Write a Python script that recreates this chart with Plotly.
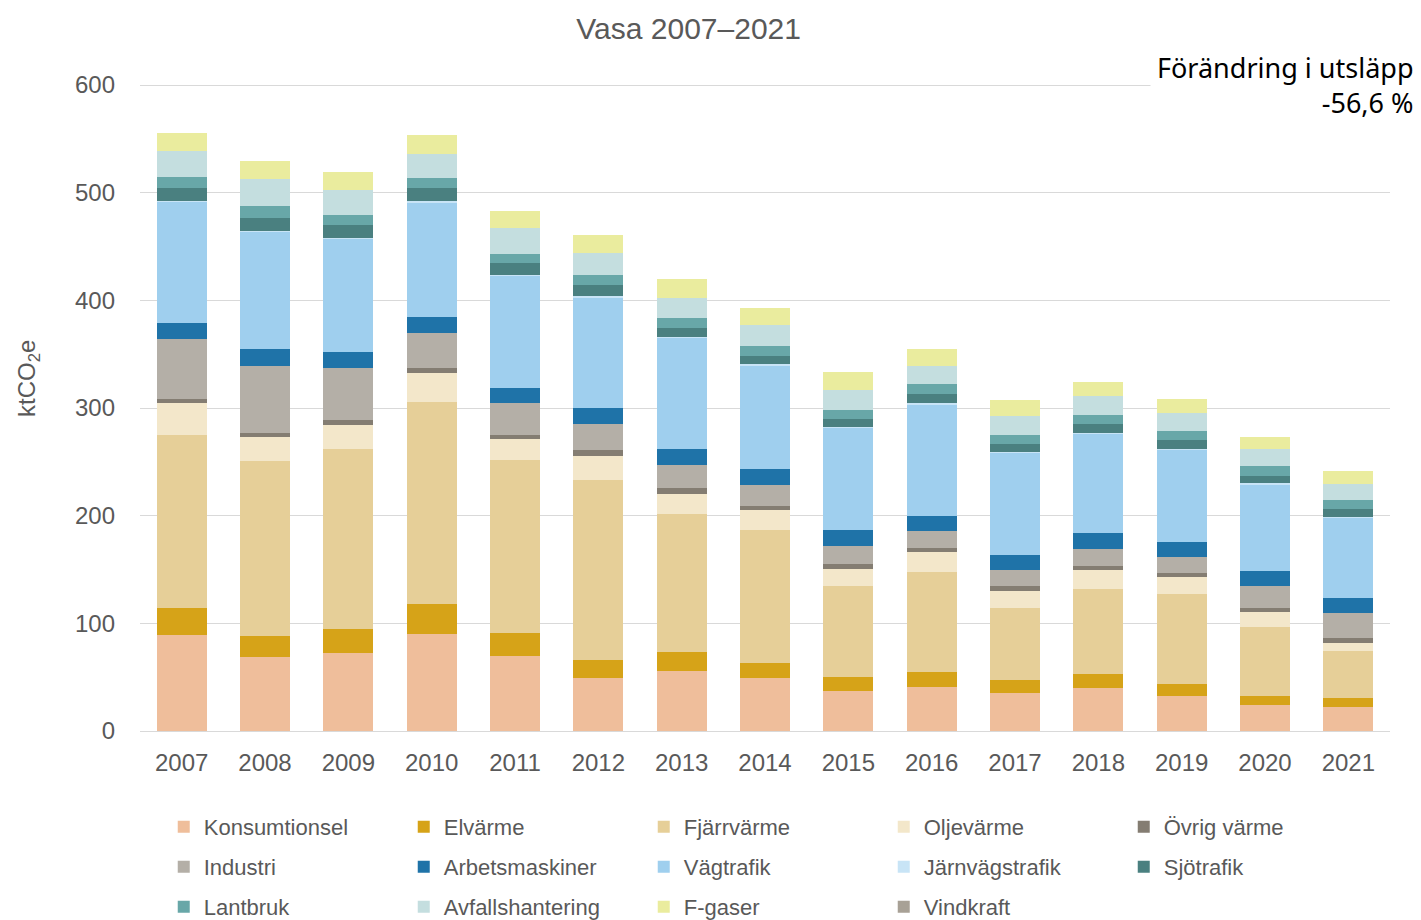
import plotly.graph_objects as go

years = [str(y) for y in range(2007, 2022)]

konsumtionsel = [89, 69, 72.6, 90, 69.8, 49.2, 56, 49.2, 37.4, 41, 35.5, 40.2, 32.5, 23.8, 22.5]
elvarme = [25.7, 19.4, 21.7, 27.8, 21.4, 16.6, 17.6, 13.8, 12.6, 14, 11.8, 12.9, 11.1, 8.7, 8.1]
fjarrvarme = [160.3, 162.3, 167.2, 188.2, 160.8, 167.6, 128.4, 123.4, 84.5, 93.1, 66.7, 79.2, 83.7, 63.7, 43.9]
oljevarme = [29.5, 22.3, 22.3, 26.6, 19.3, 22.3, 18.4, 18.6, 16.4, 18.6, 16.5, 17, 15.8, 14.8, 7.7]
ovrig_varme = [4, 4, 5.2, 4.4, 3.7, 4.9, 5.3, 3.7, 4.1, 3.7, 4, 3.7, 4.1, 2.8, 4]
industri = [55.5, 62.4, 48.6, 33, 30, 24.3, 21, 19.4, 17.2, 15.7, 15.5, 16.4, 14.5, 21.2, 23.5]
arbetsmaskiner = [15, 15.6, 14.8, 14.6, 13.6, 14.8, 14.8, 15.2, 14.2, 13.9, 13.8, 14.8, 13.9, 13.9, 13.9]
vagtrafik = [112.5, 108.6, 105, 106.6, 104.2, 103.3, 103.8, 96.3, 95.4, 103.4, 94.6, 91.8, 85.8, 80.1, 74.4]
jarnvagstrafik = [1] * 15
sjotrafik = [11.5, 12.1, 11.5, 11.8, 10.7, 9.9, 7.7, 8.1, 6.9, 9.1, 7.6, 8.6, 7.8, 7.1, 7.5]
lantbruk = [10.7, 11.3, 9.6, 9.8, 8.9, 9.9, 9.6, 8.6, 8.9, 8.9, 8.2, 8.4, 8.9, 8.7, 8]
avfallshantering = [24.3, 24.8, 23.5, 22.5, 23.6, 20.6, 18.9, 19.5, 18.6, 17, 17.5, 17.2, 16.7, 15.7, 14.8]
f_gaser = [16.8, 16.7, 16.6, 17.3, 16.2, 16.6, 17.3, 16.4, 16.7, 15.8, 14.9, 12.8, 12.6, 11.8, 11.8]
vindkraft = [0] * 15

# name, values, colour, legend row
series = [
    ("Konsumtionsel", konsumtionsel, "#EFBE9B", "legend"),
    ("Elvärme", elvarme, "#D6A318", "legend"),
    ("Fjärrvärme", fjarrvarme, "#E6CF98", "legend"),
    ("Oljevärme", oljevarme, "#F3E7CA", "legend"),
    ("Övrig värme", ovrig_varme, "#847D72", "legend"),
    ("Industri", industri, "#B4AFA7", "legend2"),
    ("Arbetsmaskiner", arbetsmaskiner, "#1F73A8", "legend2"),
    ("Vägtrafik", vagtrafik, "#9FCFEE", "legend2"),
    ("Järnvägstrafik", jarnvagstrafik, "#C8E4F6", "legend2"),
    ("Sjötrafik", sjotrafik, "#4A8080", "legend2"),
    ("Lantbruk", lantbruk, "#68A7A8", "legend3"),
    ("Avfallshantering", avfallshantering, "#C4DEDF", "legend3"),
    ("F-gaser", f_gaser, "#EAEC9E", "legend3"),
    ("Vindkraft", vindkraft, "#A8A196", "legend3"),
]

fig = go.Figure()
for name, vals, col, leg in series:
    fig.add_trace(go.Bar(x=years, y=vals, name=name, marker_color=col,
                         marker_line_width=0, legend=leg))

grey = "#595959"
H = 920
# the page puts the figure 8px in from the top-left corner, so positions are shifted by 8
legend_style = dict(orientation="h", x=0.1096, xanchor="left", yanchor="middle",
                    xref="container", yref="container",
                    entrywidth=195, entrywidthmode="pixels",
                    font=dict(family="Liberation Sans, Arial", size=22, color=grey),
                    bgcolor="rgba(0,0,0,0)", traceorder="normal")

fig.update_layout(
    width=1421, height=H,
    barmode="stack", bargap=0.4,
    plot_bgcolor="white", paper_bgcolor="white",
    margin=dict(l=132, r=39, t=76, b=197),
    font=dict(family="Liberation Sans, Arial", color=grey),
    title=dict(text="Vasa 2007–2021", x=0.479, xanchor="center",
               y=1 - 20 / H, yanchor="middle", xref="container", yref="container",
               font=dict(size=30, color=grey)),
    legend=dict(legend_style, y=1 - 819 / H),
    legend2=dict(legend_style, y=1 - 859 / H),
    legend3=dict(legend_style, y=1 - 899 / H),
    xaxis=dict(showgrid=False, showline=True, linecolor="#D9D9D9", linewidth=1,
               tickfont=dict(size=24, color=grey), ticklabelstandoff=10),
    yaxis=dict(range=[0, 601], tickvals=[0, 100, 200, 300, 400, 500, 600],
               showgrid=True, gridcolor="#D9D9D9",
               gridwidth=1, zeroline=False, showline=False,
               tickfont=dict(size=24, color=grey), ticklabelstandoff=24),
)

# y-axis title sits a little above the middle of the axis
fig.add_annotation(
    text="ktCO<sub>2</sub>e", xref="paper", yref="paper",
    x=-0.0896, y=0.544, xanchor="center", yanchor="middle", textangle=-90,
    showarrow=False, font=dict(size=24, color=grey),
)

fig.add_annotation(
    text="Förändring i utsläpp<br>-56,6 %", xref="paper", yref="y",
    x=1.0248, y=600, xanchor="right", yanchor="middle", align="right",
    showarrow=False, bgcolor="white", borderpad=6,
    font=dict(family="Noto Sans, Open Sans", size=27, color="black"),
)

fig.write_html("out.html")
